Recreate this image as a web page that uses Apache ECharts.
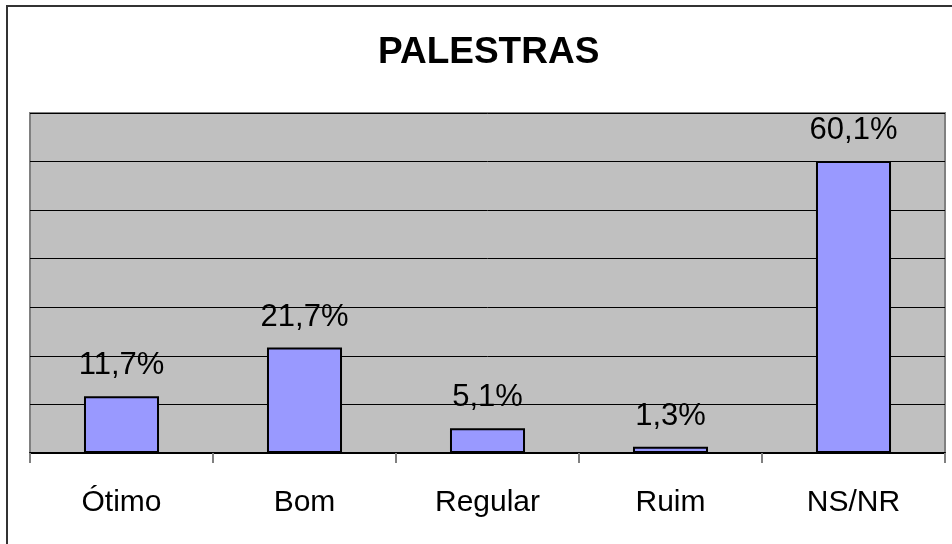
<!DOCTYPE html>
<html>
<head>
<meta charset="utf-8">
<script src="https://cdn.jsdelivr.net/npm/echarts@6/dist/echarts.min.js"></script>
<style>
  html, body { margin: 0; padding: 0; background: #ffffff; }
  #chart { width: 952px; height: 544px; }
</style>
</head>
<body>
<div id="chart"></div>
<script>
// dados do gráfico
var categorias = ['Ótimo', 'Bom', 'Regular', 'Ruim', 'NS/NR'];
var valores = [11.7, 21.7, 5.1, 1.3, 60.1];
var titulo = 'PALESTRAS';

var chart = echarts.init(document.getElementById('chart'), null, { renderer: 'canvas' });
var fonte = '"Liberation Sans", Arial, sans-serif';

var option = {
    backgroundColor: '#ffffff',
    animation: false,
    title: {
        text: titulo,
        left: 373,
        top: 29,
        textStyle: { fontFamily: fonte, fontSize: 37, fontWeight: 'bold', color: '#000000' }
    },
    // moldura externa
    graphic: [{
        type: 'rect',
        shape: { x: 7, y: 6, width: 970, height: 580 },
        style: { fill: 'none', stroke: '#333333', lineWidth: 2 },
        silent: true
    }],
    grid: {
        left: 30, right: 7, top: 113, bottom: 91,
        show: true,
        backgroundColor: '#c0c0c0',
        borderColor: '#808080',
        borderWidth: 2
    },
    xAxis: {
        type: 'category',
        data: categorias,
        axisLine: { lineStyle: { color: '#000000', width: 2 } },
        axisTick: { show: true, length: 10, lineStyle: { color: '#808080', width: 2 } },
        axisLabel: { margin: 35, fontFamily: fonte, fontSize: 30, color: '#000000' }
    },
    yAxis: {
        type: 'value',
        min: 0, max: 70, interval: 10,
        axisLabel: { show: false },
        axisTick: { show: false },
        axisLine: { show: false },
        splitLine: { show: true, lineStyle: { color: '#000000', width: 1 } }
    },
    series: [{
        type: 'bar',
        data: valores,
        barWidth: '41%',
        itemStyle: { color: '#9999ff', borderColor: '#000000', borderWidth: 2 },
        label: {
            show: true,
            position: 'top',
            distance: 15,
            fontFamily: fonte,
            fontSize: 31,
            color: '#000000',
            formatter: function (p) { return p.value.toFixed(1).replace('.', ',') + '%'; }
        }
    }]
};
chart.setOption(option);
</script>
</body>
</html>
